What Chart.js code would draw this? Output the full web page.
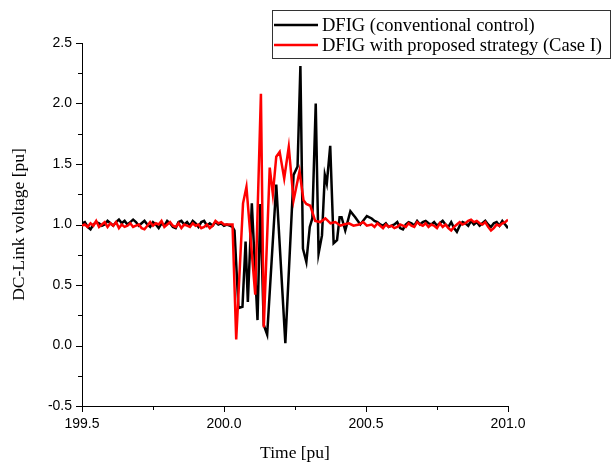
<!DOCTYPE html>
<html>
<head>
<meta charset="utf-8">
<title>DC-Link voltage</title>
<script src="https://cdn.jsdelivr.net/npm/chart.js@4.4.0/dist/chart.umd.min.js"></script>
<style>
    html, body { margin: 0; padding: 0; background: #fff; }
    #wrap { width: 614px; height: 466px; }
</style>
</head>
<body>
<div id="wrap"><canvas id="dcChart" width="614" height="466"></canvas></div>
<script>
// Axis setup
const xMin = 199.5, xMax = 201.0;
const yMin = -0.5, yMax = 2.5;
const tickStep = 0.25;
const xTitle = 'Time [pu]';
const yTitle = 'DC-Link voltage [pu]';
const seriesLabels = ['DFIG (conventional control)', 'DFIG with proposed strategy (Case I)'];
const seriesColors = ['#000000', '#ff0000'];

// Steady-state samples every 0.01 pu
const sampleStep = 0.01;
const preStart = 199.50;
const postStart = 200.52;

// Conventional control (black)
const blackPre = [
    1.01, 1.02, 0.98, 0.96, 1.00, 1.02, 1.01, 0.99, 1.00, 1.03,
    1.01, 0.99, 1.02, 1.04, 1.01, 1.03, 1.00, 1.02, 1.04, 1.02,
    0.99, 1.01, 1.03, 1.00, 0.98, 1.02, 1.00, 0.97, 1.01, 0.99,
    1.03, 1.01, 0.98, 0.97, 1.02, 1.03, 1.00, 1.02, 0.99, 1.03,
    1.01, 0.98, 1.02, 1.03, 0.99, 1.01, 0.99, 1.02, 1.00, 1.01,
    0.99, 1.00, 0.99, 0.98
];
const blackFaultT = [
    200.037, 200.051, 200.065, 200.076, 200.084, 200.098, 200.118, 200.128,
    200.140, 200.152, 200.184, 200.216, 200.245, 200.259, 200.269, 200.278,
    200.290, 200.302, 200.311, 200.323, 200.333, 200.345, 200.355, 200.362,
    200.374, 200.386, 200.398, 200.407, 200.414, 200.427, 200.445, 200.462,
    200.480, 200.503
];
const blackFaultV = [
    0.95, 0.31, 0.32, 0.86, 0.36, 1.175, 0.21, 1.17,
    0.17, 0.09, 1.33, 0.02, 1.41, 1.48, 2.31, 0.80,
    0.69, 0.98, 1.05, 2.00, 0.76, 0.91, 1.41, 1.34,
    1.65, 0.845, 0.87, 1.06, 1.06, 0.95, 1.11, 1.06,
    1.00, 1.07
];
const blackPost = [
    1.05, 1.03, 1.02, 1.00, 0.99, 1.01, 0.98, 0.99, 1.00, 1.02,
    0.97, 0.96, 1.00, 1.02, 1.01, 0.99, 1.03, 1.00, 1.02, 1.03,
    1.01, 1.00, 1.02, 0.99, 1.01, 1.03, 1.00, 0.98, 1.02, 0.97,
    0.94, 0.99, 1.02, 1.01, 0.99, 1.03, 1.00, 1.02, 0.99, 1.01,
    1.03, 1.00, 0.98, 1.01, 1.02, 0.99, 1.03, 1.00, 0.97
];

// Proposed strategy (red)
const redPre = [
    0.99, 1.00, 0.98, 1.01, 0.99, 1.03, 0.98, 1.00, 1.02, 0.98,
    1.01, 0.99, 1.02, 0.97, 1.00, 0.98, 0.99, 1.01, 0.98, 0.99,
    1.00, 0.97, 0.96, 0.99, 1.02, 0.99, 1.01, 1.00, 1.03, 0.98,
    1.00, 1.02, 0.99, 0.98, 1.01, 0.97, 1.00, 0.99, 0.98, 1.01,
    0.99, 1.00, 0.97, 0.98, 1.00, 0.97, 0.99, 1.03, 1.01, 1.02,
    1.00, 1.00, 1.00, 1.00
];
const redFaultT = [
    200.043, 200.067, 200.079, 200.110, 200.130, 200.140, 200.161, 200.172,
    200.184, 200.196, 200.212, 200.228, 200.245, 200.266, 200.280, 200.290,
    200.304, 200.321, 200.339, 200.357, 200.375, 200.392, 200.410, 200.421,
    200.440, 200.456, 200.475, 200.490, 200.503
];
const redFaultV = [
    0.05, 1.175, 1.31, 0.42, 2.08, 0.15, 1.47, 1.25,
    1.56, 1.60, 1.38, 1.64, 1.20, 1.44, 1.20, 1.17,
    1.155, 1.03, 1.02, 1.05, 1.01, 1.02, 0.99, 1.00,
    1.01, 0.99, 1.00, 1.02, 0.99
];
const redPost = [
    1.00, 0.98, 1.01, 0.99, 0.97, 1.00, 0.98, 0.99, 0.97, 0.98,
    1.00, 0.99, 0.98, 1.01, 0.99, 0.98, 1.02, 1.00, 0.99, 1.01,
    0.98, 1.00, 0.99, 0.97, 1.01, 0.98, 1.00, 0.97, 0.95, 0.98,
    1.00, 1.02, 1.00, 1.01, 1.03, 1.04, 1.02, 1.03, 1.01, 1.00,
    1.02, 0.98, 0.95, 0.97, 1.00, 0.99, 1.01, 1.02, 1.04
];

// Join the sampled parts and the fault transient into {x, y} points
function buildSeries(pre, faultT, faultV, post) {
    const pts = [];
    pre.forEach((v, i) => pts.push({ x: preStart + i * sampleStep, y: v }));
    faultT.forEach((t, i) => pts.push({ x: t, y: faultV[i] }));
    post.forEach((v, i) => pts.push({ x: postStart + i * sampleStep, y: v }));
    return pts;
}

const isMajor = v => Math.abs(v * 2 - Math.round(v * 2)) < 1e-6;

const serifFont = '"Liberation Serif", "Times New Roman", serif';
const sansFont = '"Liberation Sans", Arial, sans-serif';

// Minor/major tick marks, axis titles and boxed legend
const decorPlugin = {
    id: 'decor',
    afterDraw(chart) {
        const ctx = chart.ctx;
        const area = chart.chartArea;
        const xs = chart.scales.x;
        const ys = chart.scales.y;

        ctx.save();
        ctx.strokeStyle = '#000';
        ctx.lineWidth = 1;
        ctx.beginPath();
        xs.ticks.forEach(t => {
            const px = Math.round(xs.getPixelForValue(t.value)) + 0.5;
            const len = isMajor(t.value) ? 6 : 4;
            ctx.moveTo(px, area.bottom);
            ctx.lineTo(px, area.bottom + len);
        });
        ys.ticks.forEach(t => {
            const py = Math.round(ys.getPixelForValue(t.value)) + 0.5;
            const len = isMajor(t.value) ? 6 : 4;
            ctx.moveTo(area.left, py);
            ctx.lineTo(area.left - len, py);
        });
        ctx.stroke();

        // Axis titles
        ctx.fillStyle = '#000';
        ctx.font = '17.5px ' + serifFont;
        ctx.textAlign = 'center';
        ctx.textBaseline = 'middle';
        ctx.fillText(xTitle, (area.left + area.right) / 2, 453);
        ctx.translate(19, (area.top + area.bottom) / 2);
        ctx.rotate(-Math.PI / 2);
        ctx.fillText(yTitle, 0, 0);
        ctx.restore();

        // Legend
        ctx.save();
        const boxL = 272.5, boxT = 10.5, boxW = 338, boxH = 48;
        ctx.fillStyle = '#fff';
        ctx.fillRect(boxL, boxT, boxW, boxH);
        ctx.strokeStyle = '#333';
        ctx.lineWidth = 1;
        ctx.strokeRect(boxL, boxT, boxW, boxH);
        ctx.font = '18.5px ' + serifFont;
        ctx.textAlign = 'left';
        ctx.textBaseline = 'middle';
        chart.data.datasets.forEach((ds, i) => {
            const rowY = 25 + i * 20;
            ctx.strokeStyle = ds.borderColor;
            ctx.lineWidth = 2.5;
            ctx.beginPath();
            ctx.moveTo(274, rowY);
            ctx.lineTo(318, rowY);
            ctx.stroke();
            ctx.fillStyle = '#000';
            ctx.fillText(ds.label, 322, rowY + 1);
        });
        ctx.restore();
    }
};

const ctx = document.getElementById('dcChart').getContext('2d');
const dcChart = new Chart(ctx, {
    type: 'line',
    data: {
        datasets: [
            {
                label: seriesLabels[0],
                data: buildSeries(blackPre, blackFaultT, blackFaultV, blackPost),
                borderColor: seriesColors[0],
                borderWidth: 2.5,
                pointRadius: 0,
                tension: 0,
                order: 1
            },
            {
                label: seriesLabels[1],
                data: buildSeries(redPre, redFaultT, redFaultV, redPost),
                borderColor: seriesColors[1],
                borderWidth: 2.5,
                pointRadius: 0,
                tension: 0,
                order: 0
            }
        ]
    },
    options: {
        responsive: false,
        animation: false,
        layout: { padding: { top: 43, right: 106, left: 0, bottom: 0 } },
        plugins: {
            legend: { display: false },
            tooltip: { enabled: false }
        },
        scales: {
            x: {
                type: 'linear',
                min: xMin,
                max: xMax,
                afterFit: s => { s.height = 60; },
                grid: { display: false, drawTicks: false },
                border: { display: true, color: '#000', width: 1 },
                ticks: {
                    stepSize: tickStep,
                    autoSkip: false,
                    maxRotation: 0,
                    padding: 10,
                    color: '#000',
                    font: { family: sansFont, size: 14 },
                    callback: v => isMajor(v) ? v.toFixed(1) : ''
                }
            },
            y: {
                type: 'linear',
                min: yMin,
                max: yMax,
                afterFit: s => { s.width = 82; },
                grid: { display: false, drawTicks: false },
                border: { display: true, color: '#000', width: 1 },
                ticks: {
                    stepSize: tickStep,
                    autoSkip: false,
                    padding: 10,
                    color: '#000',
                    font: { family: sansFont, size: 14 },
                    callback: v => isMajor(v) ? v.toFixed(1) : ''
                }
            }
        }
    },
    plugins: [decorPlugin]
});
</script>
</body>
</html>
